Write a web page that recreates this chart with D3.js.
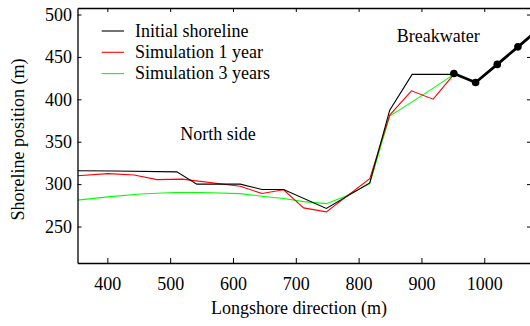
<!DOCTYPE html>
<html><head><meta charset="utf-8">
<script src="https://cdn.jsdelivr.net/npm/d3@7"></script>
<style>body{margin:0;background:#fff}svg{display:block}</style>
</head><body>
<svg id="c" width="530" height="326"></svg>
<script>
const initialX = [352.5, 412, 510.6, 542.5, 611.5, 646, 680.6, 748.6, 817.7, 849.5, 885.2, 951.6];
const initialY = [315.7, 315.5, 314.5, 300, 300, 293.7, 293.7, 271.3, 301.5, 387.3, 429.4, 429.4];
const sim1X = [352.5, 401, 442.6, 479, 519, 611.5, 646.1, 680.6, 712.4, 748.6, 817.7, 849.5, 884.1, 918.7, 951.6];
const sim1Y = [309.8, 312.4, 310.8, 305.3, 305.9, 297.6, 289, 293.3, 272, 267.3, 306.3, 381.4, 410, 400.2, 429.4];
const sim3X = [352.5, 401, 452, 508, 548, 611.5, 646, 680.6, 712.4, 748.6, 779, 817.7, 849.5, 885.2, 917.6, 951.6];
const sim3Y = [281.1, 285, 288.4, 290.2, 290.2, 288.8, 285.8, 283.1, 279.4, 277, 285.8, 300.6, 380.2, 397, 412.6, 429.4];
const breakwaterX = [951.6, 986.2, 1020.7, 1053.6, 1086.5];
const breakwaterY = [430.5, 419.9, 441.2, 461.9, 482.6];
const xTicks = [400, 500, 600, 700, 800, 900, 1000];
const yTicks = [250, 300, 350, 400, 450, 500];
const seriesNames = ["Initial shoreline", "Simulation 1 year", "Simulation 3 years"];
const seriesColors = ["#000000", "#ff0000", "#00ff00"];

const FONT = "'Liberation Serif', 'Times New Roman', Times, serif";
const svg = d3.select("#c").style("font-family", FONT);
const L = 77.5, R = 531, T = 8, B = 263;
const x = d3.scaleLinear().domain([352.5, 1074.4]).range([L, R]);
const y = d3.scaleLinear().domain([207, 507.7]).range([B, T]);

svg.append("defs").append("clipPath").attr("id", "clip")
  .append("rect").attr("x", L).attr("y", T).attr("width", R - L).attr("height", B - T);

const g = svg.append("g").attr("clip-path", "url(#clip)");
const line = d3.line().x(d => x(d[0])).y(d => y(d[1]));
const zip = (a, b) => a.map((v, i) => [v, b[i]]);

const data = [zip(initialX, initialY), zip(sim1X, sim1Y), zip(sim3X, sim3Y)];
[2, 1, 0].forEach(i => {
  g.append("path").attr("d", line(data[i])).attr("fill", "none")
    .attr("stroke", seriesColors[i]).attr("stroke-width", 1.1).attr("stroke-linejoin", "miter");
});
const bw = zip(breakwaterX, breakwaterY);
g.append("path").attr("d", line(bw)).attr("fill", "none").attr("stroke", "#000").attr("stroke-width", 2.8);
g.selectAll("circle.bw").data(bw.slice(0, 4)).enter().append("circle")
  .attr("cx", d => x(d[0])).attr("cy", d => y(d[1])).attr("r", 3.8).attr("fill", "#000");

// axes
const fs = "18px";
const fmt = d3.format("d");
const ax = svg.append("g").attr("transform", `translate(0,${B})`)
  .call(d3.axisBottom(x).tickValues(xTicks).tickFormat(fmt).tickSize(-5).tickPadding(14).tickSizeOuter(0));
const ay = svg.append("g").attr("transform", `translate(${L},0)`)
  .call(d3.axisLeft(y).tickValues(yTicks).tickFormat(fmt).tickSize(-4).tickPadding(5.5).tickSizeOuter(0));
const at = svg.append("g").attr("transform", `translate(0,${T})`)
  .call(d3.axisTop(x).tickValues(xTicks).tickSize(-4).tickFormat("").tickSizeOuter(0));
const ar = svg.append("g").attr("transform", `translate(${R},0)`)
  .call(d3.axisRight(y).tickValues(yTicks).tickSize(-4).tickFormat("").tickSizeOuter(0));
[ax, ay, at, ar].forEach(a => {
  a.attr("font-family", null).attr("font-size", null);
  a.selectAll("path.domain").attr("stroke", "#000").attr("stroke-width", 1.3);
  a.selectAll("line").attr("stroke", "#000").attr("stroke-width", 1);
  a.selectAll("text").style("font-family", FONT).style("font-size", fs).attr("fill", "#000");
});

function label(sel) { return sel.style("font-family", FONT).style("font-size", fs).attr("fill", "#000"); }

// titles
label(svg.append("text").attr("x", 299).attr("y", 314).attr("text-anchor", "middle")).text("Longshore direction (m)");
label(svg.append("text").attr("transform", "translate(24,139.5) rotate(-90)").attr("text-anchor", "middle")).text("Shoreline position (m)");

// legend
seriesNames.forEach((n, i) => {
  const yy = 31 + i * 21.3;
  svg.append("line").attr("x1", 101.7).attr("x2", 124).attr("y1", yy).attr("y2", yy)
    .attr("stroke", seriesColors[i]).attr("stroke-width", 1.1);
  label(svg.append("text").attr("x", 135).attr("y", yy + 5.5)).text(n);
});

label(svg.append("text").attr("x", 180.3).attr("y", 140)).text("North side");
label(svg.append("text").attr("x", 396.7).attr("y", 41.7)).text("Breakwater");
</script>
</body></html>
